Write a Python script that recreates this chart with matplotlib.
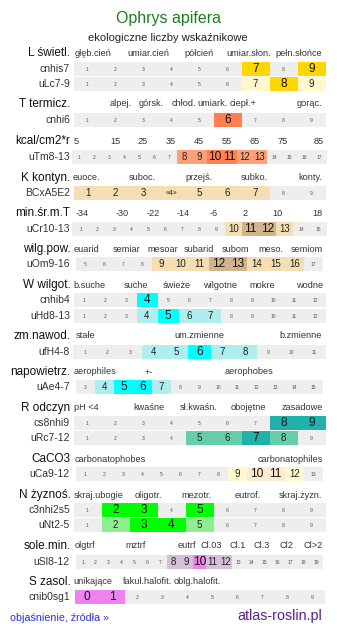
import matplotlib
matplotlib.use("Agg")
import matplotlib.pyplot as plt
from matplotlib.patches import Rectangle

plt.rcParams['font.family'] = ['Liberation Sans', 'DejaVu Sans']

# ---------------- data ----------------
title = "Ophrys apifera"
subtitle = "ekologiczne liczby wskaźnikowe"

# scale headers
L_name = "L świetl."
L_scale = ["głęb.cień", "umiar.cień", "półcień", "umiar.słon.", "pełn.słońce"]
T_name = "T termicz."
T_scale = ["alpej.", "górsk.", "chłod.", "umiark.", "ciepł.+", "gorąc."]
kcal_name = "kcal/cm2*r"
kcal_scale = ["5", "15", "25", "35", "45", "55", "65", "75", "85"]
K_name = "K kontyn."
K_scale = ["euoce.", "suboc.", "przejś.", "subko.", "konty."]
minT_name = "min.śr.m.T"
minT_scale = ["-34", "-30", "-22", "-14", "-6", "2", "10", "18"]
wilg_name = "wilg.pow."
wilg_scale = ["euarid", "semiar", "mesoar", "subarid", "subom", "meso.", "semiom"]
W_name = "W wilgot."
W_scale = ["b.suche", "suche", "świeże", "wilgotne", "mokre", "wodne"]
zm_name = "zm.nawod."
zm_scale = ["stałe", "um.zmienne", "b.zmienne"]
nap_name = "napowietrz."
nap_scale = ["aerophiles", "+-", "aerophobes"]
R_name = "R odczyn"
R_scale = ["pH <4", "kwaśne", "sł.kwaśn.", "obojętne", "zasadowe"]
Ca_name = "CaCO3"
Ca_scale = ["carbonatophobes", "carbonatophiles"]
N_name = "N żyznoś."
N_scale = ["skraj.ubogie", "oligotr.", "mezotr.", "eutrof.", "skraj.żyzn."]
sole_name = "sole.min."
sole_scale = ["olgtrf", "mztrf", "eutrf", "Cl.03", "Cl.1", "Cl.3", "Cl2", "Cl>2"]
S_name = "S zasol."
S_scale = ["unikające", "fakul.halofit.", "oblg.halofit."]

# indicator rows: cell labels, strong values, weak values
cnhis7_cells = ["1", "2", "3", "4", "5", "6", "7", "8", "9"]
cnhis7_strong = ["7", "9"]
cnhis7_weak = []
uLc_cells = ["1", "2", "3", "4", "5", "6", "7", "8", "9"]
uLc_strong = ["8"]
uLc_weak = ["7", "9"]
cnhi6_cells = ["1", "2", "3", "4", "5", "6", "7", "8", "9"]
cnhi6_strong = ["6"]
cnhi6_weak = []
uTm_cells = [str(i) for i in range(1, 18)]
uTm_strong = ["10", "11"]
uTm_weak = ["8", "9", "12", "13"]
BCx_cells = ["1", "2", "3", "«4»", "5", "6", "7", "8", "9"]
BCx_strong = []
BCx_weak = ["1", "2", "3", "«4»", "5", "6", "7"]
uCr_cells = [str(i) for i in range(1, 16)]
uCr_strong = ["11", "12"]
uCr_weak = ["10", "13"]
uOm_cells = [str(i) for i in range(5, 18)]
uOm_strong = ["12", "13"]
uOm_weak = ["9", "10", "11", "14", "15", "16"]
cnhib4_cells = [str(i) for i in range(1, 13)]
cnhib4_strong = ["4"]
cnhib4_weak = []
uHd_cells = [str(i) for i in range(1, 13)]
uHd_strong = ["5"]
uHd_weak = ["4", "6", "7"]
ufH_cells = [str(i) for i in range(1, 12)]
ufH_strong = ["6"]
ufH_weak = ["4", "5", "7", "8"]
uAe_cells = [str(i) for i in range(3, 16)]
uAe_strong = ["5", "6"]
uAe_weak = ["4", "7"]
cs8_cells = [str(i) for i in range(1, 10)]
cs8_strong = ["8", "9"]
cs8_weak = []
uRc_cells = [str(i) for i in range(1, 10)]
uRc_strong = ["7"]
uRc_weak = ["5", "6", "8"]
uCa_cells = [str(i) for i in range(1, 14)]
uCa_strong = ["10", "11"]
uCa_weak = ["9", "12"]
c3n_cells = [str(i) for i in range(1, 10)]
c3n_strong = ["2", "3", "5"]
c3n_weak = []
uNt_cells = [str(i) for i in range(1, 10)]
uNt_strong = ["3", "4"]
uNt_weak = ["2", "5"]
uSl_cells = [str(i) for i in range(1, 20)]
uSl_strong = ["10"]
uSl_weak = ["8", "9", "11", "12"]
cnib_cells = [str(i) for i in range(0, 10)]
cnib_strong = ["0", "1"]
cnib_weak = []

footer_left = "objaśnienie, źródła »"
footer_right = "atlas-roslin.pl"

# ---------------- layout / style ----------------
W, H = 337, 634
GREY = "#eeeeee"
COL = {
    "L": ("#ffd700", "#fff8cc"),
    "T": ("#ff7f50", "#ffa07a"),
    "K": ("#d2b48c", "#f5deb3"),
    "W": ("#00ffff", "#afeeee"),
    "R": ("#20b2aa", "#66cdaa"),
    "Ca": ("#ffebcd", "#fffacd"),
    "N": ("#00ff00", "#90ee90"),
    "S": ("#ee82ee", "#d8bfd8"),
}

headers = [
    (L_name, 53, L_scale, [93, 148, 199, 249, 299]),
    (T_name, 104, T_scale, [121, 151.5, 184, 213, 243.5, 309]),
    (kcal_name, 141, kcal_scale, [76, 115, 143, 171, 199, 227, 255, 283, 319]),
    (K_name, 178, K_scale, [86.5, 142.5, 198.5, 254.5, 310.5]),
    (minT_name, 213, minT_scale, [82, 122, 153, 183, 214, 245, 277, 317]),
    (wilg_name, 249, wilg_scale, [86, 127, 163, 199, 235, 271, 307]),
    (W_name, 285, W_scale, [89.5, 136, 177, 220, 262, 310]),
    (zm_name, 336, zm_scale, [85, 199, 301]),
    (nap_name, 372, nap_scale, [95, 149, 249]),
    (R_name, 408, R_scale, [86.5, 148.5, 199, 248.5, 302]),
    (Ca_name, 459, Ca_scale, [110, 290.5]),
    (N_name, 495, N_scale, [99, 148.5, 196.5, 248, 300]),
    (sole_name, 546, sole_scale, [84.5, 136, 187, 211.5, 237.5, 262, 286, 313.5]),
    (S_name, 582, S_scale, [93, 147.5, 197.5]),
]

rows = [
    ("cnhis7", 69, cnhis7_cells, cnhis7_strong, cnhis7_weak, "L"),
    ("uLc7-9", 84, uLc_cells, uLc_strong, uLc_weak, "L"),
    ("cnhi6", 120, cnhi6_cells, cnhi6_strong, cnhi6_weak, "T"),
    ("uTm8-13", 157, uTm_cells, uTm_strong, uTm_weak, "T"),
    ("BCxA5E2", 193, BCx_cells, BCx_strong, BCx_weak, "K"),
    ("uCr10-13", 229, uCr_cells, uCr_strong, uCr_weak, "K"),
    ("uOm9-16", 264, uOm_cells, uOm_strong, uOm_weak, "K"),
    ("cnhib4", 300, cnhib4_cells, cnhib4_strong, cnhib4_weak, "W"),
    ("uHd8-13", 316, uHd_cells, uHd_strong, uHd_weak, "W"),
    ("ufH4-8", 352, ufH_cells, ufH_strong, ufH_weak, "W"),
    ("uAe4-7", 387, uAe_cells, uAe_strong, uAe_weak, "W"),
    ("cs8nhi9", 423, cs8_cells, cs8_strong, cs8_weak, "R"),
    ("uRc7-12", 438, uRc_cells, uRc_strong, uRc_weak, "R"),
    ("uCa9-12", 474, uCa_cells, uCa_strong, uCa_weak, "Ca"),
    ("c3nhi2s5", 510, c3n_cells, c3n_strong, c3n_weak, "N"),
    ("uNt2-5", 525, uNt_cells, uNt_strong, uNt_weak, "N"),
    ("uSl8-12", 562, uSl_cells, uSl_strong, uSl_weak, "S"),
    ("cnib0sg1", 597, cnib_cells, cnib_strong, cnib_weak, "S"),
]

fig = plt.figure(figsize=(W / 100, H / 100), dpi=100)
ax = fig.add_axes([0, 0, 1, 1])
ax.set_xlim(0, W)
ax.set_ylim(H, 0)
ax.axis("off")

ax.text(168, 19, title, ha="center", va="center", fontsize=11.5, color="#1e7d1e")
ax.text(168, 38, subtitle, ha="center", va="center", fontsize=8, color="#222222")

for name, y, labels, xs in headers:
    ax.text(70.5, y, name, ha="right", va="center", fontsize=8.5, color="#111111")
    for lab, x in zip(labels, xs):
        ax.text(x, y, lab, ha="center", va="center", fontsize=6.6, color="#333333")

BAR_W, BAR_C, ROW_H = 252, 199.5, 14
for label, y, cells, strong, weak, ck in rows:
    n = len(cells)
    cw = round(BAR_W / n)
    x0 = BAR_C - cw * n / 2
    ax.text(70, y, label, ha="right", va="center", fontsize=7.5, color="#333333")
    cs, cwk = COL[ck]
    for i, c in enumerate(cells):
        xl = x0 + i * cw
        if c in strong:
            fc, fs, tc = cs, 8.6, "#111111"
        elif c in weak:
            fc, fs, tc = cwk, 7.0, "#222222"
        else:
            fc, fs, tc = GREY, 3.6, "#555555"
        if c.startswith("«"):
            fs = 5.0
        ax.add_patch(Rectangle((xl, y - ROW_H / 2), cw, ROW_H, facecolor=fc,
                               edgecolor="none", linewidth=0))
        ax.text(xl + cw / 2, y + 0.3, c, ha="center", va="center", fontsize=fs, color=tc)

ax.text(10, 618, footer_left, ha="left", va="center", fontsize=7.7, color="#2a2ae8")
ax.text(322, 616, footer_right, ha="right", va="center", fontsize=10.3, color="#5a1e8c")

fig.savefig("out.png", dpi=100)
